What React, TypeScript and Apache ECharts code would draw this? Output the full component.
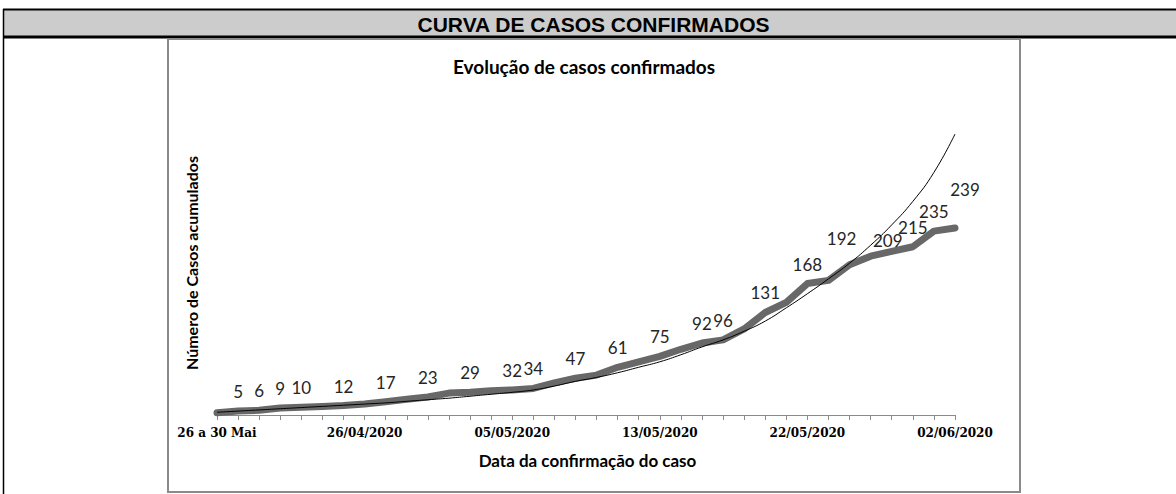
import React, { useEffect, useRef } from "react";
import * as echarts from "echarts";

const HEADER = "CURVA DE CASOS CONFIRMADOS";
const TITLE = "Evolução de casos confirmados";
const Y_TITLE = "Número de Casos acumulados";
const X_TITLE = "Data da confirmação do caso";

const categories = [
  "26 a 30 Mai", "02/04/2020", "07/04/2020", "11/04/2020", "15/04/2020", "19/04/2020", "23/04/2020",
  "26/04/2020", "27/04/2020", "28/04/2020", "29/04/2020", "30/04/2020", "02/05/2020", "04/05/2020",
  "05/05/2020", "06/05/2020", "07/05/2020", "08/05/2020", "09/05/2020", "11/05/2020", "12/05/2020",
  "13/05/2020", "14/05/2020", "15/05/2020", "16/05/2020", "18/05/2020", "19/05/2020", "20/05/2020",
  "22/05/2020", "23/05/2020", "25/05/2020", "26/05/2020", "28/05/2020", "29/05/2020", "01/06/2020",
  "02/06/2020",
];

const confirmed = [
  3, 5, 6, 9, 10, 11, 12, 14, 17, 20, 23, 28, 29, 31, 32, 34, 41, 47, 51, 61, 68, 75, 84, 92, 96,
  110, 131, 144, 168, 172, 192, 203, 209, 215, 235, 239,
];

const trend = [
  3.5, 5, 6.5, 8, 9.5, 11, 12.5, 14, 15.5, 17.5, 19.5, 21.5, 24, 26.5, 29, 32, 37, 43, 48, 54, 61,
  68, 77, 87, 96, 107, 120, 137, 155, 174, 194, 217, 243, 273, 310, 359,
];

const labeledIndices = [1, 2, 3, 4, 6, 8, 10, 12, 14, 15, 17, 19, 21, 23, 24, 26, 28, 30, 32, 33, 34, 35];

// label nudges (style only)
const labelNudges: Record<number, [number, number]> = {
  30: [-8, -7],
  32: [-4, 8.5],
  35: [10, -18.5],
};

export default function App() {
  const ref = useRef<HTMLDivElement>(null);
  useEffect(() => {
    if (!ref.current) return;
    const chart = echarts.init(ref.current, null, { renderer: "svg" });
    const labelFont = "Lato, 'Open Sans', sans-serif";
    chart.setOption({
      animation: false,
      backgroundColor: "#ffffff",
      grid: { left: 217, right: 221, top: 102, bottom: 79, containLabel: false },
      xAxis: {
        type: "category",
        data: categories,
        boundaryGap: false,
        axisLine: { show: true, lineStyle: { color: "#8a8a8a", width: 1 } },
        axisTick: { show: true, interval: 0, length: 5, lineStyle: { color: "#8a8a8a" } },
        axisLabel: {
          interval: 6,
          margin: 12,
          color: "#000",
          fontFamily: "'DejaVu Serif', serif",
          fontWeight: "bold",
          fontSize: 12,
        },
        splitLine: { show: false },
      },
      yAxis: {
        type: "value",
        min: 0,
        max: 400,
        show: false,
        splitLine: { show: false },
      },
      series: [
        {
          name: "Casos",
          type: "line",
          data: confirmed.map((v, i) =>
            labelNudges[i] ? { value: v, label: { offset: labelNudges[i] } } : v
          ),
          showSymbol: true,
          symbol: "circle",
          symbolSize: 2,
          itemStyle: { color: "#686868" },
          lineStyle: { color: "#686868", width: 7, join: "round", cap: "round" },
          z: 2,
          label: {
            show: true,
            position: "top",
            distance: 10,
            color: "#262626",
            fontFamily: labelFont,
            fontSize: 17,
            formatter: (p: any) => (labeledIndices.includes(p.dataIndex) ? String(p.value) : ""),
          },
        },
        {
          name: "Tendência",
          type: "line",
          data: trend,
          smooth: true,
          showSymbol: false,
          lineStyle: { color: "#000000", width: 1 },
          z: 3,
          silent: true,
        },
      ],
      graphic: [
        {
          type: "rect",
          shape: { x: 3, y: 9, width: 1180, height: 29 },
          style: { fill: "#cccccc" },
          z: 0,
        },
        { type: "line", shape: { x1: 3, y1: 9.5, x2: 1176, y2: 9.5 }, style: { stroke: "#000", lineWidth: 2 } },
        { type: "line", shape: { x1: 3, y1: 37, x2: 1176, y2: 37 }, style: { stroke: "#000", lineWidth: 3 } },
        { type: "line", shape: { x1: 3.5, y1: 9, x2: 3.5, y2: 494 }, style: { stroke: "#000", lineWidth: 1.5 } },
        {
          type: "rect",
          shape: { x: 168, y: 39, width: 852, height: 453 },
          style: { fill: "none", stroke: "#8a8a8a", lineWidth: 2 },
        },
        {
          type: "text",
          x: 593.5,
          y: 24,
          style: {
            text: HEADER,
            align: "center",
            verticalAlign: "middle",
            fontFamily: "'Liberation Sans', Arial, sans-serif",
            fontWeight: "bold",
            fontSize: 21,
            fill: "#000",
          },
        },
        {
          type: "text",
          x: 584,
          y: 66,
          style: {
            text: TITLE,
            align: "center",
            verticalAlign: "middle",
            fontFamily: labelFont,
            fontWeight: "bold",
            fontSize: 19,
            fill: "#000",
          },
        },
        {
          type: "text",
          x: 191,
          y: 263,
          rotation: Math.PI / 2,
          style: {
            text: Y_TITLE,
            align: "center",
            verticalAlign: "middle",
            fontFamily: labelFont,
            fontWeight: "bold",
            fontSize: 16,
            fill: "#000",
          },
        },
        {
          type: "text",
          x: 587.5,
          y: 460,
          style: {
            text: X_TITLE,
            align: "center",
            verticalAlign: "middle",
            fontFamily: labelFont,
            fontWeight: "bold",
            fontSize: 17,
            fill: "#000",
          },
        },
      ],
    });
    return () => chart.dispose();
  }, []);
  return (
    <div
      ref={ref}
      style={{ position: "absolute", left: 0, top: 0, width: 1176, height: 494 }}
    />
  );
}
